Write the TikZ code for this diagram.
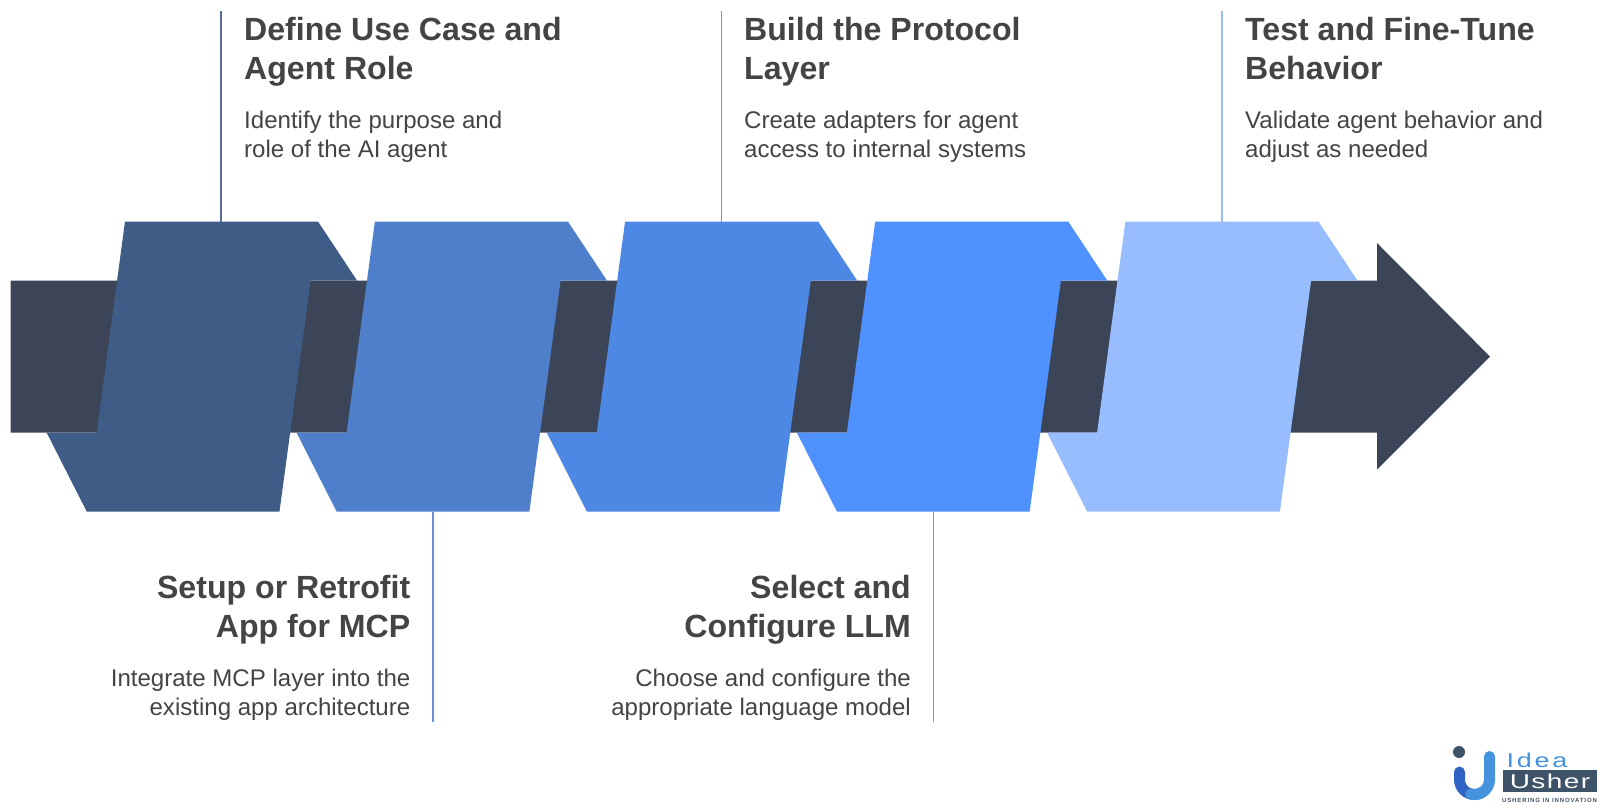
\documentclass[tikz,border=0pt]{standalone}
\usepackage{fontspec}
\setmainfont{Liberation Sans}
\definecolor{band}{HTML}{3C4557}
\definecolor{cA}{HTML}{3F5C87}
\definecolor{cB}{HTML}{4F7ECB}
\definecolor{cC}{HTML}{4E88E5}
\definecolor{cD}{HTML}{4F91FF}
\definecolor{cE}{HTML}{97BDFF}
\definecolor{ink}{HTML}{444444}
\definecolor{logoD}{HTML}{3F5368}
\definecolor{logoB}{HTML}{4593DD}
\definecolor{logoC}{HTML}{2F63C4}
\tikzset{
  x=1pt,y=-1pt,
  head/.style={font=\bfseries\fontsize{32.1}{39}\selectfont,text=ink,inner sep=0pt,align=left,text depth=0pt},
  headr/.style={head,align=right},
  sub/.style={font=\fontsize{24.05}{29}\selectfont,text=ink,inner sep=0pt,align=left},
  subr/.style={sub,align=right},
  stem/.style={line width=1.6pt}
}
\newcommand{\stepshape}[3]{%
  \begin{scope}[xshift=#1pt]
    \fill[#2] (125,221.5) coordinate (#3t) -- (318,221.5) -- (357,280.5) -- (310.7,280.5) -- (279.5,511.5) -- (86.7,511.5) coordinate (#3b) -- (46.7,432.7) -- (96.7,432.7) -- cycle;
  \end{scope}}
\begin{document}
\begin{tikzpicture}
\useasboundingbox (0,0) rectangle (1600,805);
\fill[white] (0,0) rectangle (1600,805);
% arrow
\fill[band] (10.7,280.5) -- (1377,280.5) -- (1377,243) -- (1490,356.6) -- (1377,469.5) -- (1377,432.7) -- (10.7,432.7) -- cycle;
% steps
\stepshape{0}{cA}{sa}
\stepshape{249.9}{cB}{sb}
\stepshape{500.1}{cC}{sc}
\stepshape{750.2}{cD}{sd}
\stepshape{1000.4}{cE}{se}
% stems
\coordinate (ta) at (221,11); \coordinate (ma) at (221,221.5);
\coordinate (tc) at (721.5,11); \coordinate (mc) at (721.5,221.5);
\coordinate (te) at (1222,11); \coordinate (me) at (1222,221.5);
\coordinate (tb) at (433,722); \coordinate (mb) at (433,511.5);
\coordinate (td) at (933.5,722); \coordinate (md) at (933.5,511.5);
\draw[stem,cA!88!white] (ta) -- (ma);
\draw[stem,cC!88!white] (tc) -- (mc);
\draw[stem,cE] (te) -- (me);
\draw[stem,cB!85!white] (tb) -- (mb);
\draw[stem,cD!88!white] (td) -- (md);
% texts
\node[head,anchor=north west] (h1) at (244,17.5) {Define Use Case and\\Agent Role};
\node[sub,anchor=north west] (s1) at (244,111) {Identify the purpose and\\role of the AI agent};
\node[head,anchor=north west] (h3) at (744,17.5) {Build the Protocol\\Layer};
\node[sub,anchor=north west] (s3) at (744,111) {Create adapters for agent\\access to internal systems};
\node[head,anchor=north west] (h5) at (1245,17.5) {Test and Fine-Tune\\Behavior};
\node[sub,anchor=north west] (s5) at (1245,111) {Validate agent behavior and\\adjust as needed};
\node[headr,anchor=north east] (h2) at (410.5,575.5) {Setup or Retrofit\\App for MCP};
\node[subr,anchor=north east] (s2) at (410.5,669) {Integrate MCP layer into the\\existing app architecture};
\node[headr,anchor=north east] (h4) at (911,575.5) {Select and\\Configure LLM};
\node[subr,anchor=north east] (s4) at (911,669) {Choose and configure the\\appropriate language model};
% logo
\fill[logoD] (1459,752) circle (6);
\draw[logoC,line width=11pt,line cap=round] (1459.5,772) -- (1459.5,779.5) arc[start angle=180,end angle=60,radius=15];
\draw[logoB,line width=11pt,line cap=round] (1489.5,756.5) -- (1489.5,779.5) arc[start angle=0,end angle=105,radius=15];
\node[inner sep=0pt,anchor=center,text=logoB,xscale=1.35,font=\fontsize{20}{20}\selectfont\addfontfeature{LetterSpace=10}] (lg1) at (1537,760) {Idea};
\fill[logoD] (1502.7,770) rectangle (1596.7,792);
\node[inner sep=0pt,text=white,xscale=1.4,font=\fontsize{20}{20}\selectfont\addfontfeature{LetterSpace=5}] (lg2) at (1550,781) {Usher};
\node[inner sep=0pt,text=logoD,font=\bfseries\fontsize{6}{6}\selectfont\addfontfeature{LetterSpace=15}] (lg3) at (1549.5,800) {USHERING IN INNOVATION};
\end{tikzpicture}
\end{document}
